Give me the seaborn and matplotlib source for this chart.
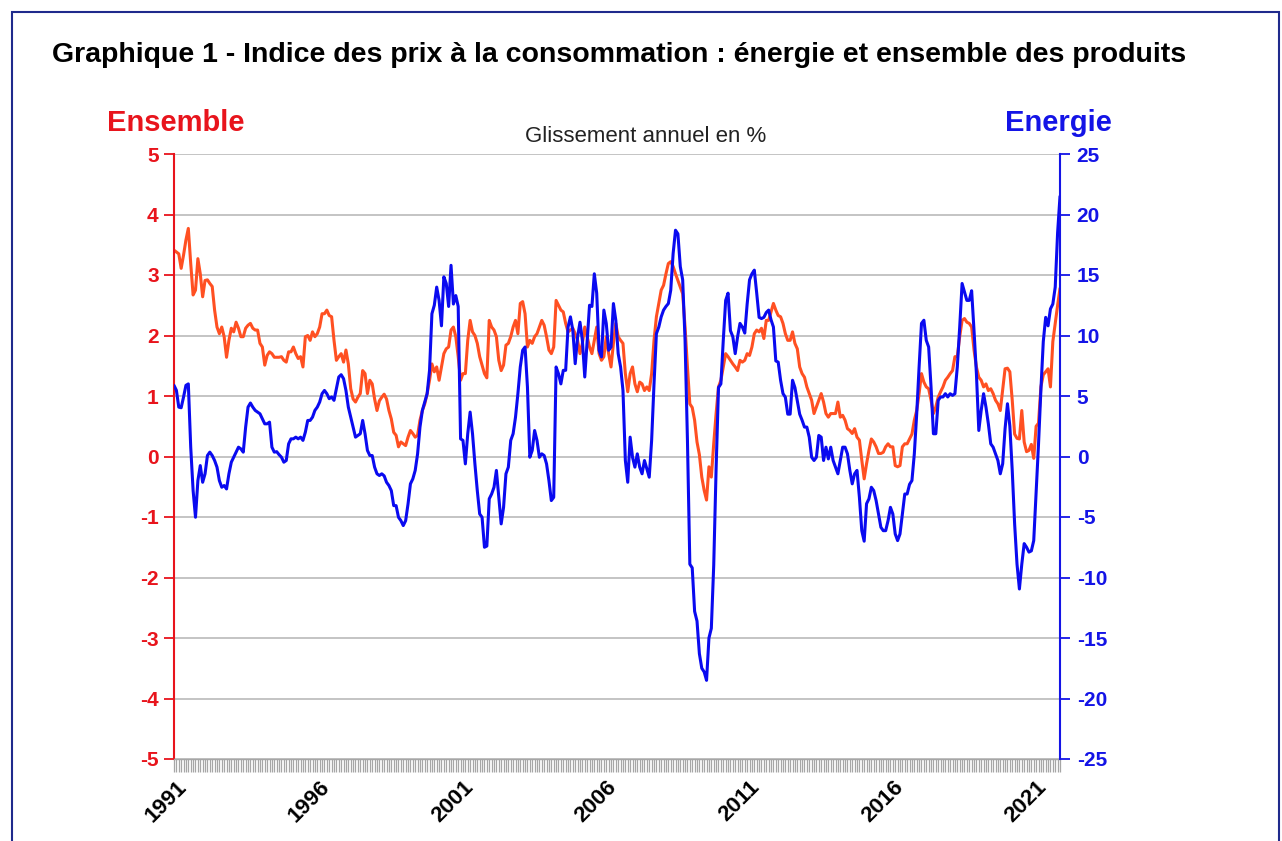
import matplotlib
matplotlib.use('Agg')
import numpy as np
import pandas as pd
import seaborn as sns
import matplotlib.pyplot as plt
from matplotlib.patches import Rectangle

# Glissement annuel en %, un point par mois (déc. 1990 -> nov. 2021)
ensemble = [
    3.41, 3.38, 3.35, 3.11, 3.33, 3.58, 3.77, 3.19, 2.67, 2.75, 3.27, 3.02,
    2.64, 2.91, 2.92, 2.86, 2.81, 2.42, 2.14, 2.03, 2.14, 1.98, 1.64, 1.92,
    2.12, 2.06, 2.22, 2.12, 1.98, 1.98, 2.12, 2.17, 2.20, 2.12, 2.09, 2.09,
    1.87, 1.81, 1.51, 1.67, 1.73, 1.70, 1.64, 1.64, 1.64, 1.65, 1.59, 1.56,
    1.73, 1.73, 1.81, 1.70, 1.62, 1.65, 1.48, 1.98, 2.00, 1.92, 2.06, 1.98,
    2.03, 2.14, 2.36, 2.36, 2.42, 2.33, 2.31, 1.92, 1.59, 1.65, 1.70, 1.56,
    1.76, 1.53, 1.12, 0.95, 0.90, 0.98, 1.04, 1.42, 1.37, 1.04, 1.26, 1.20,
    0.95, 0.76, 0.92, 0.98, 1.03, 0.95, 0.76, 0.62, 0.40, 0.35, 0.16, 0.24,
    0.21, 0.18, 0.32, 0.43, 0.38, 0.32, 0.35, 0.60, 0.76, 0.87, 1.04, 1.26,
    1.53, 1.40, 1.48, 1.26, 1.48, 1.70, 1.78, 1.81, 2.09, 2.14, 1.98, 1.65,
    1.26, 1.37, 1.37, 1.92, 2.25, 2.06, 2.00, 1.87, 1.65, 1.51, 1.37, 1.30,
    2.25, 2.14, 2.09, 1.98, 1.59, 1.42, 1.51, 1.84, 1.87, 1.98, 2.14, 2.25,
    2.03, 2.53, 2.56, 2.36, 1.81, 1.92, 1.87, 1.98, 2.03, 2.14, 2.25, 2.17,
    1.98, 1.76, 1.70, 1.81, 2.58, 2.50, 2.42, 2.39, 2.20, 2.06, 2.09, 2.12,
    2.03, 1.92, 1.70, 1.87, 2.14, 1.98, 1.81, 1.70, 1.92, 2.14, 1.70, 1.59,
    1.65, 1.98, 1.70, 1.48, 1.87, 2.20, 1.98, 1.92, 1.87, 1.37, 1.07, 1.37,
    1.48, 1.20, 1.07, 1.23, 1.20, 1.09, 1.15, 1.09, 1.37, 1.92, 2.31, 2.53,
    2.75, 2.83, 3.02, 3.19, 3.22, 3.14, 3.02, 2.91, 2.80, 2.69, 2.14, 1.48,
    0.87, 0.81, 0.60, 0.24, 0.03, -0.34, -0.56, -0.72, -0.17, -0.34, 0.21, 0.71,
    1.15, 1.26, 1.48, 1.70, 1.65, 1.59, 1.53, 1.48, 1.42, 1.59, 1.56, 1.59,
    1.70, 1.67, 1.81, 2.03, 2.09, 2.06, 2.12, 1.95, 2.25, 2.25, 2.39, 2.53,
    2.42, 2.33, 2.31, 2.20, 2.03, 1.92, 1.92, 2.06, 1.87, 1.78, 1.48, 1.37,
    1.31, 1.15, 1.04, 0.93, 0.71, 0.82, 0.93, 1.04, 0.90, 0.71, 0.65, 0.71,
    0.71, 0.71, 0.90, 0.65, 0.68, 0.60, 0.46, 0.43, 0.38, 0.46, 0.32, 0.27,
    -0.06, -0.37, -0.12, 0.10, 0.29, 0.24, 0.16, 0.05, 0.05, 0.07, 0.16, 0.21,
    0.16, 0.16, -0.15, -0.17, -0.15, 0.16, 0.21, 0.21, 0.29, 0.37, 0.60, 0.76,
    1.04, 1.37, 1.23, 1.15, 1.12, 0.93, 0.71, 0.82, 0.98, 1.07, 1.15, 1.26,
    1.31, 1.37, 1.42, 1.65, 1.65, 1.98, 2.25, 2.28, 2.22, 2.20, 2.14, 1.76,
    1.48, 1.31, 1.26, 1.15, 1.20, 1.09, 1.12, 1.04, 0.93, 0.87, 0.76, 1.10,
    1.45, 1.46, 1.40, 0.93, 0.37, 0.30, 0.29, 0.76, 0.24, 0.08, 0.10, 0.20,
    -0.03, 0.50, 0.55, 1.15, 1.35, 1.40, 1.45, 1.15, 1.90, 2.20, 2.50, 2.78,
]

energie = [
    5.88, 5.47, 4.08, 4.03, 4.92, 5.88, 6.00, 0.77, -2.81, -5.02, -1.99, -0.75,
    -2.13, -1.43, 0.08, 0.36, 0.08, -0.33, -0.88, -1.99, -2.54, -2.40, -2.68, -1.43,
    -0.47, -0.06, 0.36, 0.77, 0.63, 0.36, 2.43, 4.08, 4.42, 4.08, 3.81, 3.67,
    3.53, 3.12, 2.70, 2.70, 2.84, 0.77, 0.36, 0.40, 0.15, -0.06, -0.47, -0.33,
    1.05, 1.46, 1.46, 1.60, 1.46, 1.60, 1.33, 2.01, 2.98, 2.98, 3.25, 3.81,
    4.08, 4.50, 5.19, 5.46, 5.19, 4.78, 4.92, 4.64, 5.60, 6.57, 6.76, 6.43,
    5.46, 4.08, 3.25, 2.43, 1.60, 1.74, 1.88, 2.98, 1.88, 0.50, 0.08, 0.08,
    -0.88, -1.43, -1.57, -1.43, -1.60, -2.13, -2.40, -2.82, -4.06, -4.06, -5.02, -5.30,
    -5.71, -5.30, -3.92, -2.26, -1.85, -1.15, 0.22, 2.43, 3.81, 4.50, 5.19, 7.12,
    11.80, 12.50, 14.00, 12.90, 10.80, 14.85, 14.30, 12.40, 15.80, 12.60, 13.30, 12.40,
    1.46, 1.33, -0.61, 1.88, 3.67, 1.88, -0.61, -2.82, -4.75, -5.02, -7.50, -7.40,
    -3.50, -3.10, -2.54, -1.15, -3.37, -5.57, -4.20, -1.43, -0.88, 1.33, 1.88, 3.25,
    5.19, 7.40, 8.78, 9.05, 5.74, -0.06, 0.50, 2.15, 1.33, -0.06, 0.22, 0.08,
    -0.61, -1.99, -3.64, -3.37, 7.40, 6.84, 6.00, 7.12, 7.12, 10.70, 11.54, 10.43,
    7.67, 9.88, 11.10, 9.60, 6.57, 9.60, 12.50, 12.40, 15.10, 13.50, 8.78, 8.23,
    12.10, 11.00, 8.78, 9.05, 12.64, 11.26, 8.50, 7.40, 5.46, -0.33, -2.13, 1.60,
    -0.06, -0.88, 0.22, -0.88, -1.43, -0.33, -1.01, -1.71, 1.33, 6.00, 10.15, 10.70,
    11.54, 12.10, 12.40, 12.64, 13.74, 16.77, 18.70, 18.40, 15.70, 14.60, 9.60, 1.33,
    -8.90, -9.20, -12.80, -13.60, -16.30, -17.50, -17.80, -18.50, -15.00, -14.20, -9.00, -1.00,
    5.70, 6.00, 9.60, 12.90, 13.50, 10.40, 9.90, 8.50, 9.90, 11.00, 10.70, 10.20,
    12.60, 14.60, 15.10, 15.40, 13.50, 11.50, 11.40, 11.50, 11.90, 12.10, 11.30, 10.70,
    7.90, 7.80, 6.30, 5.20, 4.90, 3.50, 3.50, 6.30, 5.70, 4.60, 3.50, 3.00,
    2.43, 2.43, 1.60, -0.06, -0.33, -0.06, 1.74, 1.60, -0.33, 0.77, -0.20, 0.77,
    -0.33, -0.88, -1.43, -0.33, 0.77, 0.77, 0.22, -1.15, -2.26, -1.43, -1.15, -3.37,
    -6.13, -7.00, -3.90, -3.50, -2.54, -2.82, -3.64, -4.75, -5.85, -6.13, -6.13, -5.30,
    -4.20, -4.75, -6.40, -6.95, -6.40, -4.75, -3.10, -3.10, -2.30, -1.99, 0.22, 3.53,
    7.40, 11.00, 11.26, 9.60, 9.05, 5.74, 1.88, 1.88, 4.64, 4.92, 4.92, 5.19,
    4.92, 5.19, 5.05, 5.19, 7.40, 10.70, 14.30, 13.60, 12.90, 12.90, 13.70, 10.40,
    6.84, 2.15, 3.81, 5.19, 4.08, 2.70, 1.05, 0.77, 0.22, -0.33, -1.43, -0.60,
    2.30, 4.36, 2.50, -1.15, -5.57, -8.90, -10.95, -8.90, -7.20, -7.50, -7.90, -7.80,
    -6.95, -3.00, 1.00, 5.50, 9.50, 11.50, 10.80, 12.20, 12.60, 14.00, 18.50, 21.50,
]

annees = ["1991", "1996", "2001", "2006", "2011", "2016", "2021"]
ticks_gauche = list(range(-5, 6))
ticks_droite = list(range(-25, 26, 5))

ROUGE = "#e8141c"
BLEU = "#1414e6"
ORANGE = "#ff5022"
BLEU_LIGNE = "#0a0af0"

sns.set_style("white")
plt.rcParams['font.family'] = ['Liberation Sans', 'DejaVu Sans']
plt.rcParams['axes.unicode_minus'] = False

W, H = 1282, 841
fig = plt.figure(figsize=(W / 100, H / 100), dpi=100)
ax = fig.add_axes([174 / W, 1 - 759 / H, (1060 - 174) / W, (759 - 154) / H])
ax2 = ax.twinx()

df = pd.DataFrame({
    "mois": np.arange(len(ensemble)),
    "ensemble": ensemble,
    "energie": energie,
})
# premier point = décembre 1990, donc janvier d'une année = indice 1 + 12*k
df["annee"] = 1990 + (df["mois"] + 11) // 12
df["janvier"] = (df["mois"] % 12) == 1

sns.lineplot(data=df, x="mois", y="ensemble", ax=ax, color=ORANGE, lw=2.2)
sns.lineplot(data=df, x="mois", y="energie", ax=ax2, color=BLEU_LIGNE, lw=2.2)

ax.set_xlim(df["mois"].min(), df["mois"].max())
ax.set_ylim(-5, 5)
ax2.set_ylim(-25, 25)
ax.set_xlabel("")
ax.set_ylabel("")
ax2.set_ylabel("")

# axe gauche
ax.set_yticks(ticks_gauche)
ax.set_yticklabels([str(v) for v in ticks_gauche], color=ROUGE, fontsize=15, fontweight="bold")
ax.tick_params(axis="y", which="major", direction="out", length=7, width=1.3, color=ROUGE, pad=4, left=True)
ax.yaxis.grid(True, color="#c4c4c4", lw=1.4)
ax.xaxis.grid(False)
ax.set_axisbelow(True)

# axe droit
ax2.set_yticks(ticks_droite)
ax2.set_yticklabels([str(v) for v in ticks_droite], color=BLEU, fontsize=15, fontweight="bold")
ax2.tick_params(axis="y", which="major", direction="out", length=7, width=1.3, color=BLEU, pad=5, right=True)
ax2.grid(False)

# axe des mois : petites graduations mensuelles, années tous les 5 ans
pos_annees = df.loc[df["janvier"] & df["annee"].astype(str).isin(annees), "mois"].tolist()
ax.set_xticks(df["mois"].tolist(), minor=True)
ax.set_xticks(pos_annees)
ax.set_xticklabels(annees, rotation=45, ha="right", rotation_mode="anchor",
                   fontsize=16, fontweight="bold", color="black")
ax.tick_params(axis="x", which="both", direction="out", length=9, width=0.9,
               color="#a6a6a6", bottom=True, pad=4)

for s in ["top", "right"]:
    ax.spines[s].set_visible(False)
ax.spines["left"].set_color(ROUGE)
ax.spines["left"].set_linewidth(1.5)
ax.spines["bottom"].set_color("#a6a6a6")
ax.spines["bottom"].set_linewidth(1.0)
for s in ["top", "left", "bottom"]:
    ax2.spines[s].set_visible(False)
ax2.spines["right"].set_color(BLEU)
ax2.spines["right"].set_linewidth(1.5)

# textes
fig.text(52 / W, 1 - 55 / H,
         "Graphique 1 - Indice des prix à la consommation : énergie et ensemble des produits",
         ha="left", va="center", fontsize=20.5, fontweight="bold", color="black")
fig.text(107 / W, 1 - 123 / H, "Ensemble", ha="left", va="center",
         fontsize=21, fontweight="bold", color=ROUGE)
fig.text(1112 / W, 1 - 123 / H, "Energie", ha="right", va="center",
         fontsize=21, fontweight="bold", color=BLEU)
fig.text(646 / W, 1 - 137 / H, "Glissement annuel en %", ha="center", va="center",
         fontsize=16, color="#222222")

# cadre
fig.patches.append(Rectangle((12 / W, -0.05), (1279 - 12) / W, 1.05 - 12 / H,
                             transform=fig.transFigure, fill=False,
                             edgecolor="#1f2a8c", lw=1.5))

fig.savefig("out.png", dpi=100)
